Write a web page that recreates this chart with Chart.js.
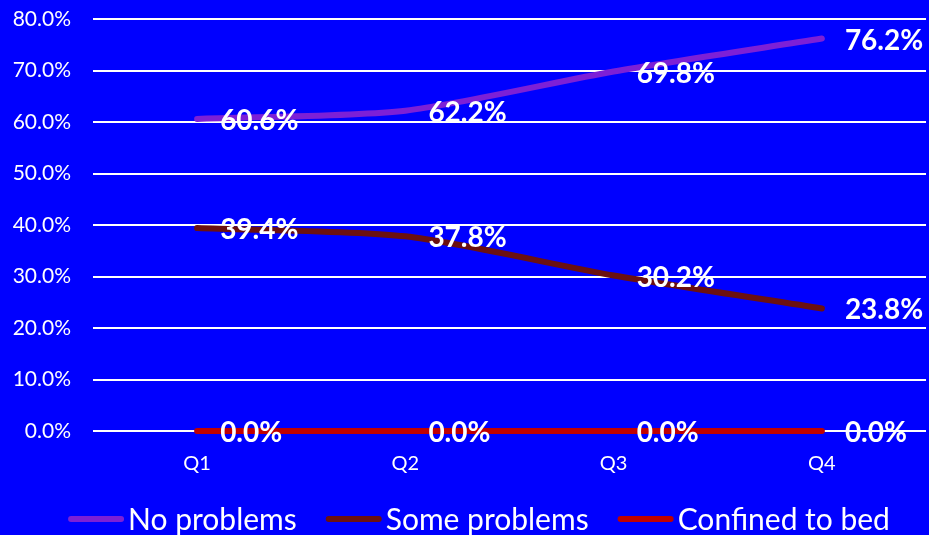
<!DOCTYPE html>
<html>
<head>
<meta charset="utf-8">
<script src="https://cdn.jsdelivr.net/npm/chart.js@4/dist/chart.umd.min.js"></script>
<style>
  html, body { margin: 0; padding: 0; background: #0000ff; }
  #qchart { display: block; }
</style>
</head>
<body>
<canvas id="qchart" width="929" height="535"></canvas>
<script>
const quarters = ['Q1', 'Q2', 'Q3', 'Q4'];
const noProblems = [60.6, 62.2, 69.8, 76.2];
const someProblems = [39.4, 37.8, 30.2, 23.8];
const confinedToBed = [0.0, 0.0, 0.0, 0.0];

const seriesNames = ['No problems', 'Some problems', 'Confined to bed'];
const seriesColors = ['#7d20d6', '#6b1010', '#c00000'];

const FONT = 'Lato, "Open Sans", sans-serif';

// fills the whole canvas blue before anything else is drawn
const backgroundFill = {
    id: 'backgroundFill',
    beforeDraw: function(chart) {
        const ctx = chart.ctx;
        ctx.save();
        ctx.fillStyle = '#0000ff';
        ctx.fillRect(0, 0, chart.width, chart.height);
        ctx.restore();
    }
};

// white bold value labels to the right of each point
const valueLabels = {
    id: 'valueLabels',
    afterDatasetsDraw: function(chart) {
        const ctx = chart.ctx;
        ctx.save();
        ctx.font = 'bold 28px ' + FONT;
        ctx.fillStyle = '#ffffff';
        ctx.textAlign = 'left';
        ctx.textBaseline = 'middle';
        chart.data.datasets.forEach((ds, i) => {
            const meta = chart.getDatasetMeta(i);
            meta.data.forEach((pt, j) => {
                ctx.fillText(ds.data[j].toFixed(1) + '%', pt.x + 23, pt.y + 2);
            });
        });
        ctx.restore();
    }
};

// line-swatch legend along the bottom, tight gap between swatch and text
const lineLegend = {
    id: 'lineLegend',
    afterDraw: function(chart) {
        const ctx = chart.ctx;
        const swatch = 56, gap = 4, spacing = 29, y = 519, centre = 479;
        ctx.save();
        ctx.font = '30px ' + FONT;
        ctx.textBaseline = 'middle';
        ctx.textAlign = 'left';
        const items = chart.data.datasets.map(ds => ({
            text: ds.label,
            color: ds.borderColor,
            w: swatch + gap + ctx.measureText(ds.label).width
        }));
        const total = items.reduce((s, it) => s + it.w, 0) + spacing * (items.length - 1);
        let x = centre - total / 2;
        items.forEach(it => {
            ctx.strokeStyle = it.color;
            ctx.lineWidth = 6;
            ctx.lineCap = 'round';
            ctx.beginPath();
            ctx.moveTo(x + 3, y);
            ctx.lineTo(x + swatch - 3, y);
            ctx.stroke();
            ctx.fillStyle = '#ffffff';
            ctx.fillText(it.text, x + swatch + gap, y + 1);
            x += it.w + spacing;
        });
        ctx.restore();
    }
};

const makeSet = (idx, values) => ({
    label: seriesNames[idx],
    data: values,
    borderColor: seriesColors[idx],
    backgroundColor: seriesColors[idx],
    borderWidth: 6,
    borderCapStyle: 'round',
    borderJoinStyle: 'round',
    pointRadius: 0,
    clip: false,
    tension: 0.25,
    order: 3 - idx
});

new Chart(document.getElementById('qchart'), {
    type: 'line',
    data: {
        labels: quarters,
        datasets: [
            makeSet(0, noProblems),
            makeSet(1, someProblems),
            makeSet(2, confinedToBed)
        ]
    },
    options: {
        responsive: false,
        animation: false,
        layout: { padding: { top: 19, right: 3, bottom: 54, left: 0 } },
        plugins: {
            tooltip: { enabled: false },
            legend: { display: false }
        },
        scales: {
            x: {
                offset: true,
                afterFit: function(scale) { scale.height = 50; },
                grid: { display: false },
                border: { display: false },
                ticks: {
                    color: '#ffffff',
                    padding: 13,
                    font: { family: FONT, size: 20 }
                }
            },
            y: {
                min: 0,
                max: 80,
                afterFit: function(scale) {
                    scale.width = 93;
                    scale.paddingTop = 0;
                    scale.paddingBottom = 0;
                },
                grid: { color: '#ffffff', lineWidth: 2, drawTicks: false },
                border: { display: false },
                ticks: {
                    stepSize: 10,
                    color: '#ffffff',
                    padding: 22,
                    font: { family: FONT, size: 21 },
                    callback: v => v.toFixed(1) + '%'
                }
            }
        }
    },
    plugins: [backgroundFill, valueLabels, lineLegend]
});
</script>
</body>
</html>
